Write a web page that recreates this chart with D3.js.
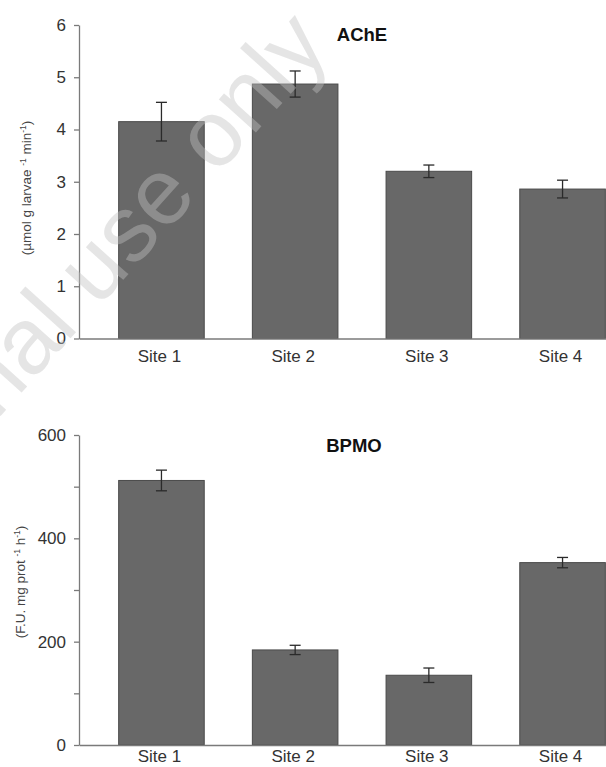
<!DOCTYPE html>
<html>
<head>
<meta charset="utf-8">
<script src="https://cdn.jsdelivr.net/npm/d3@7"></script>
<style>
  html, body { margin: 0; padding: 0; background: #ffffff; }
  svg { display: block; }
  text { font-family: "Liberation Sans", Arial, sans-serif; }
</style>
</head>
<body>
<script>
// ---- data ----
const categories = ["Site 1", "Site 2", "Site 3", "Site 4"];
const acheMean = [4.15, 4.87, 3.20, 2.86];
const acheErr  = [0.37, 0.25, 0.12, 0.17];
const bpmoMean = [512, 184, 135, 353];
const bpmoErr  = [20, 9, 14, 10];
const acheTicks = [0, 1, 2, 3, 4, 5, 6];
const bpmoTicks = [0, 100, 200, 300, 400, 500, 600];
const bpmoLabelTicks = [0, 200, 400, 600];
const titles = ["AChE", "BPMO"];

const W = 606, H = 767;
const svg = d3.select("body").append("svg").attr("width", W).attr("height", H)
  .style("background", "#ffffff");

const x = d3.scaleBand().domain(categories).range([94.6, 629.4])
  .paddingInner(0.36).paddingOuter(0.18);

const axisColor = "#7a7a7a";
const barFill = "#686868";
const barStroke = "#4a4a4a";

function panel(opts) {
  const g = svg.append("g");
  const y = d3.scaleLinear().domain(opts.domain).range([opts.y0, opts.y1]);
  const axisX = 79;

  // bars
  g.selectAll("rect.bar").data(opts.mean).join("rect")
    .attr("class", "bar")
    .attr("x", (d, i) => x(categories[i]))
    .attr("width", x.bandwidth())
    .attr("y", d => y(d))
    .attr("height", d => y(0) - y(d))
    .attr("fill", barFill)
    .attr("stroke", barStroke)
    .attr("stroke-width", 1);

  // error bars
  const eb = g.selectAll("g.eb").data(opts.mean).join("g").attr("class", "eb");
  const cx = i => x(categories[i]) + x.bandwidth() / 2;
  eb.append("line")
    .attr("x1", (d, i) => cx(i)).attr("x2", (d, i) => cx(i))
    .attr("y1", (d, i) => y(d + opts.err[i])).attr("y2", (d, i) => y(d - opts.err[i]));
  eb.append("line")
    .attr("x1", (d, i) => cx(i) - 5.5).attr("x2", (d, i) => cx(i) + 5.5)
    .attr("y1", (d, i) => y(d + opts.err[i])).attr("y2", (d, i) => y(d + opts.err[i]));
  eb.append("line")
    .attr("x1", (d, i) => cx(i) - 5.5).attr("x2", (d, i) => cx(i) + 5.5)
    .attr("y1", (d, i) => y(d - opts.err[i])).attr("y2", (d, i) => y(d - opts.err[i]));
  eb.selectAll("line").attr("stroke", "#2a2a2a").attr("stroke-width", 1.3);

  // y axis
  const ya = g.append("g").attr("transform", `translate(${axisX},0)`)
    .call(d3.axisLeft(y).tickValues(opts.ticks).tickSize(5).tickSizeOuter(0).tickPadding(8)
      .tickFormat(d => opts.labelTicks.includes(d) ? d3.format("d")(d) : ""));
  ya.select(".domain").attr("stroke", axisColor).attr("stroke-width", 1.3);
  ya.selectAll(".tick line").attr("stroke", axisColor).attr("stroke-width", 1.3);
  ya.selectAll(".tick text").attr("fill", "#333").style("font-size", "17px")
    .style("font-family", "'Liberation Sans', Arial, sans-serif");

  // x axis line
  const xa = g.append("g").attr("transform", `translate(0,${y(0)})`)
    .call(d3.axisBottom(d3.scaleLinear().domain([0, 1]).range([axisX, W + 2])).ticks(0).tickSizeOuter(0));
  xa.select(".domain").attr("stroke", axisColor).attr("stroke-width", 1.3);

  // category labels
  g.selectAll("text.cat").data(categories).join("text")
    .attr("class", "cat")
    .attr("x", d => x(d) + x.bandwidth() / 2 - 2)
    .attr("y", opts.catY)
    .attr("text-anchor", "middle")
    .attr("fill", "#333")
    .style("font-size", "17px")
    .text(d => d);

  // title
  g.append("text")
    .attr("x", opts.titleX).attr("y", opts.titleY)
    .attr("text-anchor", "middle")
    .attr("fill", "#111")
    .style("font-size", "18.5px").style("font-weight", "bold")
    .text(opts.title);

  // y label
  const yl = g.append("text")
    .attr("transform", `translate(${opts.ylX},${opts.ylY}) rotate(-90)`)
    .attr("text-anchor", "middle")
    .attr("fill", "#444")
    .style("font-size", "13.5px");
  opts.ylParts.forEach(p => {
    const t = yl.append("tspan").text(p.t);
    if (p.sup) t.style("font-size", "8.5px").attr("dy", "-5");
    if (p.down) t.attr("dy", "5");
  });
}

panel({
  domain: [0, 6], y0: 338.5, y1: 25,
  mean: acheMean, err: acheErr,
  ticks: acheTicks, labelTicks: acheTicks,
  catY: 361.5,
  title: titles[0], titleX: 362, titleY: 41,
  ylX: 31, ylY: 188,
  ylParts: [
    {t: "(µmol g larvae "}, {t: "-1", sup: true}, {t: " min", down: true},
    {t: "-1", sup: true}, {t: ")", down: true}
  ]
});

panel({
  domain: [0, 600], y0: 745, y1: 435,
  mean: bpmoMean, err: bpmoErr,
  ticks: bpmoTicks, labelTicks: bpmoLabelTicks,
  catY: 762,
  title: titles[1], titleX: 354, titleY: 452,
  ylX: 25, ylY: 582,
  ylParts: [
    {t: "(F.U. mg prot "}, {t: "-1", sup: true}, {t: " h", down: true},
    {t: "-1", sup: true}, {t: ")", down: true}
  ]
});

// watermark
svg.append("text")
  .attr("transform", "translate(332,48) rotate(-48)")
  .attr("text-anchor", "end")
  .attr("fill", "#c0c0c0")
  .attr("fill-opacity", 0.42)
  .style("font-size", "94px")
  .text("For personal use only");
</script>
</body>
</html>
